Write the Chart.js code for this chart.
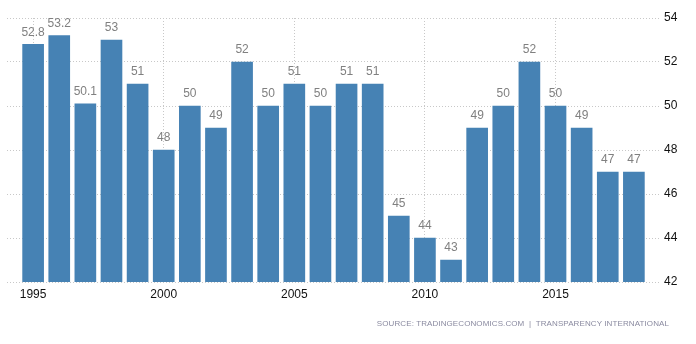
<!DOCTYPE html>
<html lang="en">
<head>
    <meta charset="UTF-8">
    <title>Corruption Index</title>
    <script src="https://cdn.jsdelivr.net/npm/chart.js"></script>
    <style>
        body { margin: 0; background: #fff; }
        #wrap { position: relative; width: 696px; height: 344px; }
        #source {
            position: absolute; right: 27px; top: 319px;
            font: 8px "Liberation Sans", Arial, sans-serif; letter-spacing: 0.1px;
            color: #8a8aa0; white-space: nowrap;
        }
    </style>
</head>
<body>
    <div id="wrap">
        <canvas id="chart" width="696" height="344"></canvas>
        <div id="source">SOURCE: TRADINGECONOMICS.COM &nbsp;|&nbsp; TRANSPARENCY INTERNATIONAL</div>
    </div>

    <script>
        const years = [1995, 1996, 1997, 1998, 1999, 2000, 2001, 2002, 2003, 2004, 2005, 2006,
                       2007, 2008, 2009, 2010, 2011, 2012, 2013, 2014, 2015, 2016, 2017, 2018];
        const values = [52.8, 53.2, 50.1, 53, 51, 48, 50, 49, 52, 50, 51, 50,
                        51, 51, 45, 44, 43, 49, 50, 52, 50, 49, 47, 47];
        const xTicks = [1995, 2000, 2005, 2010, 2015];
        const yTicks = [42, 44, 46, 48, 50, 52, 54];

        // value labels above each bar
        const barLabels = {
            id: 'barLabels',
            afterDatasetsDraw(chart) {
                const ctx = chart.ctx;
                const meta = chart.getDatasetMeta(0);
                ctx.save();
                ctx.font = '12px "Liberation Sans", Arial, sans-serif';
                ctx.fillStyle = '#808080';
                ctx.textAlign = 'center';
                ctx.textBaseline = 'middle';
                meta.data.forEach((bar, i) => {
                    ctx.fillText(String(values[i]), bar.x, bar.y - 12);
                });
                ctx.restore();
            }
        };

        new Chart(document.getElementById('chart'), {
            type: 'bar',
            data: {
                datasets: [{
                    data: years.map((y, i) => ({ x: y, y: values[i] })),
                    backgroundColor: '#4682b4',
                    barThickness: 21
                }]
            },
            options: {
                responsive: false,
                animation: false,
                layout: { padding: { left: 7, top: 18, right: 0, bottom: 0 } },
                plugins: { legend: { display: false }, tooltip: { enabled: false } },
                scales: {
                    x: {
                        type: 'linear',
                        min: 1994,
                        max: 2019,
                        offset: false,
                        afterBuildTicks: s => { s.ticks = xTicks.map(v => ({ value: v })); },
                        grid: { color: '#c8c8c8', drawTicks: false, offset: false },
                        border: { display: false, dash: [1, 2] },
                        ticks: {
                            padding: 5,
                            color: '#111',
                            font: { family: '"Liberation Sans", Arial, sans-serif', size: 12 },
                            callback: v => String(v)
                        },
                        afterFit: s => { s.height = 62; }
                    },
                    y: {
                        position: 'right',
                        min: 42,
                        max: 54,
                        afterBuildTicks: s => { s.ticks = yTicks.map(v => ({ value: v })); },
                        grid: { color: '#c8c8c8', drawTicks: false },
                        border: { display: false, dash: [1, 2] },
                        ticks: {
                            padding: 4,
                            color: '#111',
                            font: { family: '"Liberation Sans", Arial, sans-serif', size: 12 }
                        },
                        afterFit: s => { s.width = 36; }
                    }
                }
            },
            plugins: [barLabels]
        });
    </script>
</body>
</html>
